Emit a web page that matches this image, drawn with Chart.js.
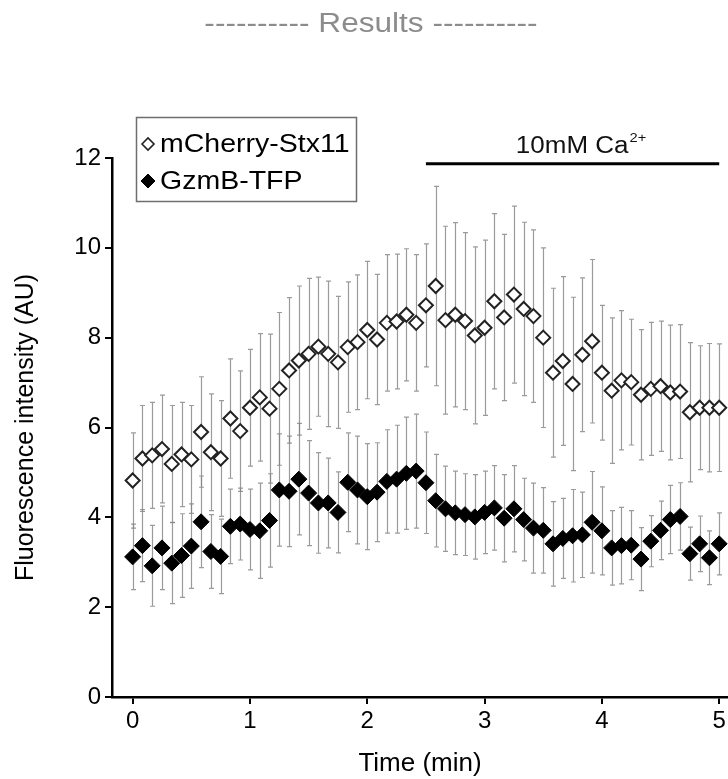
<!DOCTYPE html>
<html>
<head>
<meta charset="utf-8">
<script src="https://cdn.jsdelivr.net/npm/chart.js@4.4.1/dist/chart.umd.min.js"></script>
<style>
  html, body { margin: 0; padding: 0; background: #ffffff; }
  #wrap { position: relative; width: 728px; height: 779px; }
  canvas { display: block; }
</style>
</head>
<body>
<div id="wrap"><canvas id="chart" width="728" height="779"></canvas></div>
<script>
// ---------------- data ----------------
const chartTitle = '---------- Results ----------';
const xAxisTitle = 'Time (min)';
const yAxisTitle = 'Fluorescence intensity (AU)';
const seriesLabels = ['mCherry-Stx11', 'GzmB-TFP'];

// sampling times in seconds (one frame every 5 s)
const timeSeconds = [0,5,10,15,20,25,30,35,40,45,50,55,60,65,70,75,80,85,90,95,
  100,105,110,115,120,125,130,135,140,145,150,155,160,165,170,175,180,185,190,195,
  200,205,210,215,220,225,230,235,240,245,250,255,260,265,270,275,280,285,290,295,300];

const xTickValues = [0, 1, 2, 3, 4, 5];
const yTickValues = [0, 2, 4, 6, 8, 10, 12];

const mCherryMean = [4.82,5.31,5.38,5.52,5.19,5.40,5.29,5.90,5.45,5.31,
  6.20,5.92,6.44,6.67,6.42,6.86,7.27,7.49,7.64,7.80,
  7.64,7.45,7.79,7.90,8.17,7.96,8.33,8.36,8.51,8.33,
  8.72,9.15,8.39,8.51,8.37,8.05,8.22,8.81,8.45,8.96,
  8.64,8.48,8.00,7.22,7.48,6.97,7.62,7.92,7.22,6.82,
  7.05,7.01,6.73,6.86,6.92,6.78,6.80,6.34,6.44,6.44,6.44];
const mCherryErr = [1.06,1.18,1.18,1.20,1.30,1.16,1.20,1.23,1.30,1.29,
  1.33,1.34,1.30,1.42,1.66,1.70,1.62,1.66,1.68,1.55,
  1.62,1.47,1.45,1.50,1.53,1.45,1.52,1.50,1.47,1.52,
  1.37,2.22,2.09,2.05,1.97,1.97,1.95,1.95,1.85,1.97,
  1.93,1.92,2.00,1.88,1.88,1.93,1.71,1.82,1.50,1.62,
  1.55,1.40,1.45,1.48,1.45,1.50,1.49,1.55,1.38,1.43,1.42];

const gzmbMean = [3.12,3.37,2.92,3.32,2.98,3.15,3.36,3.90,3.24,3.13,
  3.80,3.85,3.73,3.70,3.93,4.61,4.58,4.85,4.54,4.32,
  4.32,4.11,4.78,4.61,4.46,4.56,4.80,4.85,4.98,5.03,
  4.77,4.37,4.19,4.10,4.06,4.01,4.11,4.21,3.98,4.19,
  3.95,3.76,3.71,3.41,3.53,3.59,3.61,3.89,3.70,3.32,
  3.37,3.38,3.07,3.47,3.71,3.95,4.02,3.19,3.41,3.10,3.41];
const gzmbErr = [0.73,0.80,0.90,0.93,0.90,0.93,0.94,1.02,0.82,0.83,
  0.83,0.80,0.90,1.06,1.04,1.25,1.23,1.24,1.17,1.12,
  1.00,0.90,1.10,1.20,1.18,1.10,1.15,1.20,1.25,1.27,
  1.13,1.03,0.95,0.93,0.91,0.94,0.92,0.94,0.97,0.96,
  0.92,1.00,0.95,0.94,0.89,1.03,0.95,1.13,0.98,0.83,
  0.85,0.77,0.70,0.57,0.65,0.76,0.75,0.59,0.62,0.60,0.69];

// calcium application annotation (minutes / AU)
const caText = '10mM Ca';
const caSuperscript = '2+';
const caStartMin = 2.5;
const caEndMin = 5.0;
const caLevel = 11.87;

// ---------------- build ----------------
function buildPoints(means, errs) {
  return timeSeconds.map((s, i) => ({ x: s / 60, y: means[i], err: errs[i] }));
}

const FONT = "'Liberation Sans', Arial, Helvetica, sans-serif";

const errorBarPlugin = {
  id: 'errorBars',
  beforeDatasetsDraw(chart) {
    const { ctx, scales: { x, y } } = chart;
    ctx.save();
    chart.data.datasets.forEach(ds => {
      ctx.strokeStyle = ds.errorColor;
      ctx.lineWidth = 1.2;
      ds.data.forEach(p => {
        const px = Math.round(x.getPixelForValue(p.x)) + 0.5;
        const top = y.getPixelForValue(p.y + p.err);
        const bot = y.getPixelForValue(p.y - p.err);
        ctx.beginPath();
        ctx.moveTo(px, top); ctx.lineTo(px, bot);
        ctx.moveTo(px - 2.5, top); ctx.lineTo(px + 2.5, top);
        ctx.moveTo(px - 2.5, bot); ctx.lineTo(px + 2.5, bot);
        ctx.stroke();
      });
    });
    ctx.restore();
  }
};

function stretchedText(ctx, text, x, y, sx, align) {
  ctx.save();
  ctx.translate(x, y);
  ctx.scale(sx, 1);
  ctx.textAlign = align || 'left';
  ctx.fillText(text, 0, 0);
  ctx.restore();
}

const decorPlugin = {
  id: 'decor',
  afterDraw(chart) {
    const { ctx, scales: { x, y } } = chart;
    // title
    ctx.save();
    ctx.fillStyle = '#8c8c8c';
    ctx.font = '27px ' + FONT;
    ctx.textBaseline = 'alphabetic';
    stretchedText(ctx, chartTitle, 371, 32, 1.17, 'center');
    ctx.restore();

    // legend box
    ctx.save();
    ctx.strokeStyle = '#6e6e6e';
    ctx.lineWidth = 1.5;
    ctx.strokeRect(136.5, 117.5, 220, 84);
    const rows = [144, 181];
    chart.data.datasets.forEach((ds, i) => {
      ctx.fillStyle = ds.pointBackgroundColor;
      ctx.strokeStyle = ds.pointBorderColor;
      ctx.lineWidth = i === 0 ? 1.6 : 1;
      Chart.helpers.drawPoint(ctx, { pointStyle: 'rectRot', radius: i === 0 ? 6 : 7, rotation: 0, borderWidth: ctx.lineWidth }, 148, rows[i]);
      ctx.fillStyle = '#000000';
      ctx.font = '25px ' + FONT;
      ctx.textBaseline = 'middle';
      stretchedText(ctx, ds.label, 160, rows[i] + 1, 1.14, 'left');
    });
    ctx.restore();

    // calcium bar + label
    ctx.save();
    const x0 = x.getPixelForValue(caStartMin);
    const x1 = x.getPixelForValue(caEndMin);
    const yl = y.getPixelForValue(caLevel);
    ctx.strokeStyle = '#000000';
    ctx.lineWidth = 3;
    ctx.beginPath();
    ctx.moveTo(x0, yl); ctx.lineTo(x1, yl);
    ctx.stroke();
    ctx.fillStyle = '#111111';
    const sx = 1.13;
    ctx.font = '23px ' + FONT;
    const mainW = ctx.measureText(caText).width * sx;
    ctx.font = '13px ' + FONT;
    const supW = ctx.measureText(caSuperscript).width * sx;
    const startX = (x0 + x1) / 2 + 8 - (mainW + supW) / 2;
    ctx.textBaseline = 'alphabetic';
    ctx.font = '23px ' + FONT;
    stretchedText(ctx, caText, startX, yl - 11, sx, 'left');
    ctx.font = '13px ' + FONT;
    stretchedText(ctx, caSuperscript, startX + mainW + 1, yl - 22, sx, 'left');
    ctx.restore();
  }
};

const ctx = document.getElementById('chart').getContext('2d');
new Chart(ctx, {
  type: 'scatter',
  data: {
    datasets: [
      {
        label: seriesLabels[0],
        data: buildPoints(mCherryMean, mCherryErr),
        pointStyle: 'rectRot',
        pointRadius: 7,
        pointBorderWidth: 2,
        pointBackgroundColor: '#ffffff',
        pointBorderColor: '#222222',
        errorColor: 'rgba(130,130,130,0.8)',
        showLine: false,
        clip: false,
        order: 1
      },
      {
        label: seriesLabels[1],
        data: buildPoints(gzmbMean, gzmbErr),
        pointStyle: 'rectRot',
        pointRadius: 8,
        pointBorderWidth: 1,
        pointBackgroundColor: '#000000',
        pointBorderColor: '#000000',
        errorColor: 'rgba(130,130,130,0.8)',
        showLine: false,
        clip: false,
        order: 2
      }
    ]
  },
  options: {
    responsive: false,
    animation: false,
    devicePixelRatio: 1,
    events: [],
    layout: { autoPadding: false, padding: { top: 158, left: 0, right: 0, bottom: 0 } },
    plugins: {
      legend: { display: false },
      title: { display: false },
      tooltip: { enabled: false }
    },
    scales: {
      x: {
        type: 'linear',
        min: -0.176,
        max: 5.075,
        afterBuildTicks: s => { s.ticks = xTickValues.map(v => ({ value: v })); },
        afterFit: s => { s.height = 82; s.paddingLeft = 0; s.paddingRight = 0; },
        ticks: { color: '#000', font: { family: FONT, size: 24 }, padding: 3, maxRotation: 0, autoSkip: false },
        grid: { drawOnChartArea: false, drawTicks: true, tickLength: 7, color: '#000', lineWidth: 2 },
        border: { display: true, color: '#000', width: 2.5 },
        title: { display: true, text: xAxisTitle, color: '#000', font: { family: FONT, size: 26 }, padding: { top: 0, bottom: 0 } }
      },
      y: {
        type: 'linear',
        min: 0,
        max: 12,
        afterBuildTicks: s => { s.ticks = yTickValues.map(v => ({ value: v })); },
        afterFit: s => { s.width = 112; s.paddingTop = 0; s.paddingBottom = 0; },
        ticks: { color: '#000', font: { family: FONT, size: 24 }, padding: 4, autoSkip: false },
        grid: { drawOnChartArea: false, drawTicks: true, tickLength: 7, color: '#000', lineWidth: 2 },
        border: { display: true, color: '#000', width: 2.5 },
        title: { display: true, text: yAxisTitle, color: '#000', font: { family: FONT, size: 25 }, padding: { top: 11, bottom: 0 } }
      }
    }
  },
  plugins: [errorBarPlugin, decorPlugin]
});
</script>
</body>
</html>
